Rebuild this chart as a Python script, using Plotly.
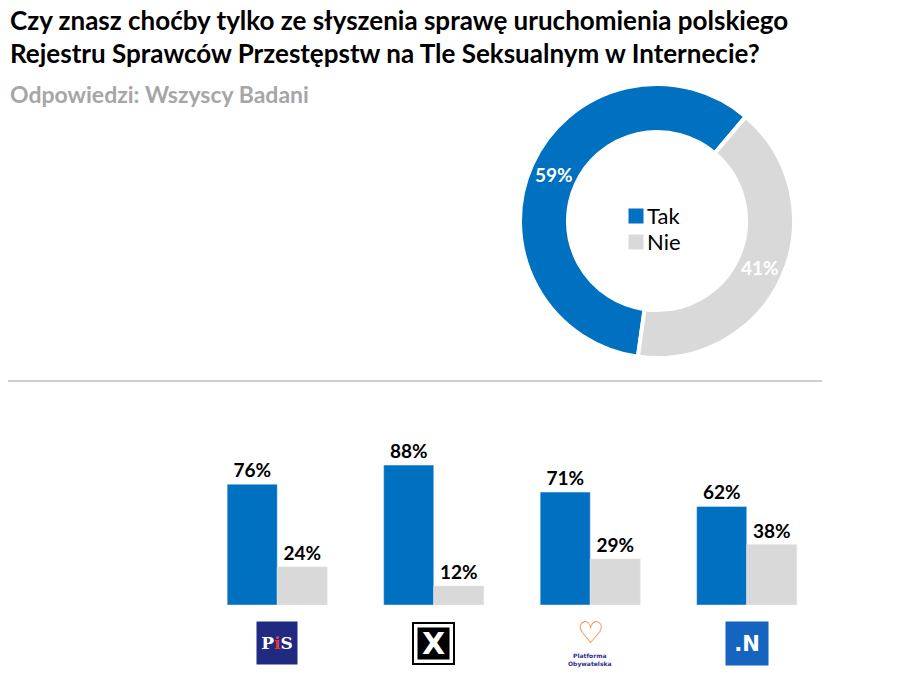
import math
import plotly.graph_objects as go

# ---- data ----
donut_labels = ["Tak", "Nie"]
donut_values = [59, 41]

parties = ["PiS", "Kukiz'15", "PO", "Nowoczesna"]
tak_values = [76, 88, 71, 62]
nie_values = [24, 12, 29, 38]

title_lines = ["Czy znasz choćby tylko ze słyszenia sprawę uruchomienia polskiego",
               "Rejestru Sprawców Przestępstw na Tle Seksualnym w Internecie?"]
subtitle = "Odpowiedzi: Wszyscy Badani"

BLUE = "#0070C0"
GREY = "#D9D9D9"
FONT = "Lato"

W, H = 900, 700
def px(x):
    return x / W
def py(y):
    return 1 - y / H

# donut geometry (pixels)
CX, CY, R_OUT, HOLE = 657, 221, 137, 0.65
ROTATION = 188

fig = go.Figure()

fig.add_trace(go.Pie(
    labels=donut_labels, values=donut_values, hole=HOLE, sort=False,
    direction="clockwise", rotation=ROTATION,
    marker=dict(colors=[BLUE, GREY], line=dict(color="white", width=4)),
    textinfo="none",
    domain=dict(x=[px(CX - R_OUT), px(CX + R_OUT)], y=[py(CY + R_OUT), py(CY - R_OUT)]),
    showlegend=False, hoverinfo="label+percent",
))

for name, vals, col in [("Tak", tak_values, BLUE), ("Nie", nie_values, GREY)]:
    fig.add_trace(go.Bar(
        x=parties, y=vals, name=name, marker_color=col, showlegend=False,
        texttemplate="<b>%{y}%</b>", textposition="outside", cliponaxis=False,
        constraintext="none", textfont=dict(color="black", size=19, family=FONT),
    ))

annotations = [
    dict(text="<b>%s</b>" % title_lines[0], xref="paper", yref="paper",
         x=px(8), y=py(20), xanchor="left", yanchor="middle", showarrow=False,
         font=dict(family=FONT, size=26, color="black")),
    dict(text="<b>%s</b>" % title_lines[1], xref="paper", yref="paper",
         x=px(8), y=py(53), xanchor="left", yanchor="middle", showarrow=False,
         font=dict(family=FONT, size=26, color="black")),
    dict(text="<b>%s</b>" % subtitle, xref="paper", yref="paper",
         x=px(8), y=py(94), xanchor="left", yanchor="middle", showarrow=False,
         font=dict(family=FONT, size=23, color="#A6A6A6")),
]

# donut slice labels, placed at the middle of each slice's arc
total = sum(donut_values)
r_mid = R_OUT * (1 + HOLE) / 2
start = ROTATION
for v in donut_values:
    mid = math.radians(start + 360 * v / total / 2)
    annotations.append(dict(
        text="<b>%d%%</b>" % v, xref="paper", yref="paper",
        x=px(CX + r_mid * math.sin(mid)), y=py(CY - r_mid * math.cos(mid)),
        xanchor="center", yanchor="middle", showarrow=False,
        font=dict(family=FONT, size=19, color="white")))
    start += 360 * v / total

# legend inside the donut hole
for i, (lab, col) in enumerate(zip(donut_labels, [BLUE, GREY])):
    yc = py(216 + 26 * i)
    annotations.append(dict(text=" ", xref="paper", yref="paper", x=px(636), y=yc,
                            xanchor="center", yanchor="middle", showarrow=False,
                            width=14, height=14, borderpad=0, bgcolor=col))
    annotations.append(dict(text=lab, xref="paper", yref="paper", x=px(645), y=yc,
                            xanchor="left", yanchor="middle", showarrow=False,
                            font=dict(family=FONT, size=22, color="black")))

# party logos (approximations)
LY = py(643)
annotations += [
    dict(text="<b>P<span style='color:#E53935'>i</span>S</b>", x="PiS", xref="x", yref="paper",
         y=LY, yanchor="middle", showarrow=False, width=40, height=42, borderpad=0,
         bgcolor="#1F2A80", font=dict(color="white", size=17, family="DejaVu Serif")),
    dict(text=" ", x="Kukiz'15", xref="x", yref="paper", y=LY, yanchor="middle", showarrow=False,
         width=39, height=39, borderpad=0, bgcolor="white", bordercolor="black", borderwidth=2),
    dict(text="<b>X</b>", x="Kukiz'15", xref="x", yref="paper", y=LY, yanchor="middle",
         showarrow=False, width=31, height=31, borderpad=0, bgcolor="black",
         font=dict(color="white", size=30, family="DejaVu Sans")),
    dict(text="♡", x="PO", xref="x", yref="paper", y=py(632), yanchor="middle", showarrow=False,
         borderpad=0, font=dict(color="#F07D1F", size=30, family="DejaVu Sans")),
    dict(text="<b>Platforma<br>Obywatelska</b>", x="PO", xref="x", yref="paper", y=py(660),
         yanchor="middle", showarrow=False, borderpad=0,
         font=dict(color="#2B2F8F", size=6, family="DejaVu Sans")),
    dict(text="<b>.N</b>", x="Nowoczesna", xref="x", yref="paper", y=LY, yanchor="middle",
         showarrow=False, width=42, height=43, borderpad=0, bgcolor="#1565C0",
         font=dict(color="white", size=21, family="DejaVu Sans")),
]

fig.update_layout(
    width=W, height=H, margin=dict(l=0, r=0, t=0, b=0),
    paper_bgcolor="white", plot_bgcolor="white",
    font=dict(family=FONT),
    barmode="group", bargap=0.36, bargroupgap=0,
    xaxis=dict(domain=[px(199), px(825)], showticklabels=False, showline=False,
               showgrid=False, zeroline=False, anchor="y"),
    yaxis=dict(domain=[py(605), py(446)], range=[0, 100], visible=False),
    shapes=[dict(type="line", xref="paper", yref="paper", x0=px(8), x1=px(822),
                 y0=py(381), y1=py(381), line=dict(color="#BFBFBF", width=1.5))],
    annotations=annotations,
    showlegend=False,
)

fig.write_html("out.html")
